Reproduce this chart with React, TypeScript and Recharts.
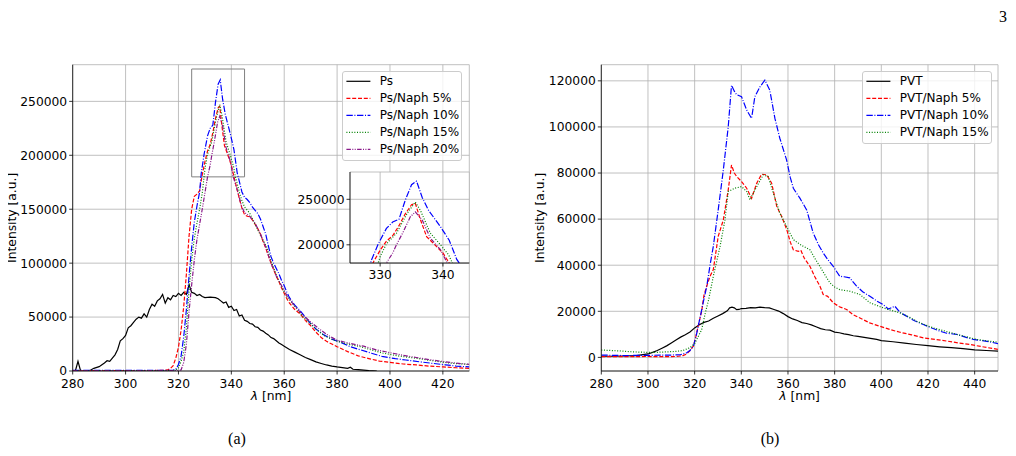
import React from "react";
import { LineChart, Line, XAxis, YAxis, CartesianGrid, ReferenceArea, Legend } from "recharts";

// wavelength [nm], intensity [a.u.]  -- panel (a)
const ps = [
  [280, 0], [281, 0], [282, 9000], [283, 0], [286, 0], [287, 1200], [288, 2500], [290, 4000], [292, 7500],
  [293, 9500], [294, 9000], [295, 12000], [296, 15000], [297, 20000], [298, 28000], [299, 30000], [300, 33000],
  [301, 40000], [302, 42000], [303, 45000], [304, 48000], [305, 50000], [306, 49000], [307, 53000], [308, 50000],
  [309, 57000], [310, 62000], [311, 60000], [312, 65000], [313, 67000], [314, 71000], [315, 63000], [316, 68000],
  [317, 66000], [318, 70000], [319, 69000], [320, 72000], [321, 70000], [322, 73000], [323, 71000], [324, 80000],
  [325, 73000], [326, 72000], [327, 70000], [328, 71000], [329, 69000], [330, 68000], [332, 68500], [334, 68000],
  [335, 67000], [336, 65000], [337, 63000], [338, 64000], [339, 59000], [340, 60000], [341, 56000], [342, 57000],
  [343, 51000], [344, 52000], [345, 47000], [346, 46000], [347, 44000], [348, 43500], [349, 41000], [350, 40500],
  [351, 38000], [352, 37000], [353, 35000], [354, 33500], [355, 31000], [356, 30000], [357, 28000], [358, 26000],
  [359, 24500], [360, 23000], [362, 20000], [364, 17500], [366, 15000], [368, 12500], [370, 10500], [372, 8500],
  [374, 7000], [376, 5600], [378, 4600], [380, 3800], [382, 3200], [384, 2500], [385, 3500], [386, 1600],
  [388, 1200], [390, 800], [392, 400], [395, 0],
];
const psNaph5 = [
  [280, 300], [290, 300], [300, 300], [310, 400], [314, 600], [316, 1000], [317, 2500], [318, 5000], [319, 12000],
  [320, 22000], [321, 38000], [322, 60000], [323, 90000], [324, 125000], [325, 150000], [326, 162000],
  [327, 164000], [328, 167000], [329, 182000], [330, 194000], [331, 204000], [332, 210000], [333, 221000],
  [334, 234000], [335, 244000], [335.6, 245500], [336.4, 228000], [337.4, 209000], [339, 198000], [340, 191000],
  [341, 180000], [342, 170000], [343, 160000], [344, 151000], [345, 145000], [346, 143500], [347, 143000],
  [348, 140000], [349, 136000], [350, 132000], [351, 127000], [352, 120000], [353, 114000], [354, 107000],
  [355, 100000], [356, 94000], [357, 88000], [358, 83000], [359, 77000], [360, 72000], [361, 67000], [362, 63000],
  [364, 57000], [366, 53000], [368, 47000], [370, 42000], [372, 36000], [374, 31000], [376, 27500], [378, 25000],
  [380, 22500], [384, 18000], [388, 14000], [392, 11500], [396, 9200], [400, 8000], [405, 6500], [410, 5600],
  [415, 4500], [420, 3800], [425, 3000], [430, 2500],
];
const psNaph10 = [
  [280, 500], [290, 500], [300, 500], [310, 500], [316, 600], [318, 800], [319, 1500], [320, 6000], [321, 14000],
  [322, 32000], [323, 57000], [324, 88000], [325, 115000], [326, 138000], [327, 153000], [328, 166000],
  [328.6, 183000], [329.7, 201000], [331, 218000], [332, 225000], [333, 228000], [334, 249000], [335, 266000],
  [335.8, 270000], [336.7, 252000], [337.7, 238000], [339.6, 220000], [341, 205000], [342.2, 184000],
  [343, 176000], [344, 166000], [345, 161000], [346, 159000], [347, 156000], [348, 152000], [349, 149000],
  [350, 146000], [351, 141000], [352, 134000], [353, 127000], [354, 116000], [355, 106000], [356, 100000],
  [357, 95000], [358, 90000], [359, 84000], [360, 79000], [361, 73000], [362, 68000], [364, 61000], [366, 56000],
  [368, 50000], [370, 44000], [372, 39000], [375, 33500], [378, 29500], [381, 27000], [385, 22500], [389, 19500],
  [393, 16500], [397, 13500], [402, 11500], [406, 10200], [411, 8600], [416, 7100], [421, 5700], [425, 4600],
  [430, 3800],
];
const psNaph15 = [
  [280, 300], [290, 300], [300, 300], [310, 300], [318, 500], [319, 1000], [320, 3000], [321, 9000], [322, 18000],
  [323, 40000], [324, 75000], [325, 103000], [326, 123000], [327, 137000], [328, 150000], [329, 165000],
  [330, 187000], [331, 201000], [332.6, 212700], [334.3, 234500], [335.6, 247000], [336.4, 238000],
  [338, 212700], [339.6, 200000], [340.9, 189000], [341.5, 180000], [342, 176000], [343, 166000], [344, 158000],
  [345, 152000], [346.4, 148000], [347, 146000], [348, 141000], [350, 131000], [352, 121000], [353.4, 115000],
  [355, 102000], [357.2, 88000], [359, 78000], [361, 69000], [364, 60000], [367, 50500], [370, 44000],
  [372.3, 38000], [375, 33000], [378.6, 28800], [383, 25500], [388.7, 22600], [393, 19500], [397.5, 16500],
  [403, 14000], [410, 11800], [416, 9500], [422.7, 7300], [430, 6000],
];
const psNaph20 = [
  [280, 300], [290, 300], [300, 300], [310, 300], [320, 500], [321, 1000], [322, 8000], [323, 25000],
  [324, 55000], [325, 80000], [326, 103000], [327, 122000], [328, 136000], [329, 150000], [330, 165000],
  [331, 180000], [332, 191000], [332.6, 200000], [333.7, 214500], [334.8, 230700], [335.6, 236200],
  [336.7, 227200], [338, 207300], [339.6, 194600], [340.7, 180000], [342, 170000], [343.9, 152500],
  [345, 147000], [347, 143300], [349, 137000], [351, 127000], [353, 115000], [355, 100000], [357, 88000],
  [359, 79000], [361, 70000], [364, 60000], [367, 52000], [370, 45500], [373, 39500], [376, 34000],
  [380, 28500], [385, 25500], [390, 23000], [395, 19500], [400, 17000], [405, 14500], [410, 12500],
  [415, 10500], [420, 8800], [425, 7300], [430, 6200],
];

// panel (b)
const pvt = [
  [280, 500], [285, 500], [290, 600], [295, 800], [300, 1500], [302, 2200], [304, 3000], [306, 4000], [308, 5000],
  [310, 6300], [312, 7600], [314, 8800], [316, 9800], [318, 11000], [320, 12800], [322, 14200], [324, 15200],
  [326, 15800], [328, 17000], [330, 18000], [332, 19000], [334, 20200], [335, 21500], [336, 21800], [337, 21500],
  [338, 20700], [339, 20800], [340, 21200], [342, 21300], [344, 21600], [346, 21500], [348, 21800], [350, 21600],
  [352, 21500], [354, 20800], [356, 20100], [358, 19000], [360, 17700], [362, 16700], [364, 16000], [366, 15100],
  [368, 14700], [370, 14100], [372, 13300], [374, 12500], [376, 12000], [378, 11800], [380, 11000], [382, 10700],
  [384, 10200], [386, 9900], [388, 9400], [390, 9100], [394, 8500], [398, 7800], [400, 7300], [405, 6800],
  [410, 6200], [415, 5600], [420, 5100], [425, 4600], [430, 4200], [435, 3800], [440, 3300], [445, 3000],
  [450, 2700],
];
const pvtNaph5 = [
  [280, 300], [290, 300], [300, 400], [305, 300], [310, 300], [313, 500], [315, 800], [316.6, 1500], [318, 3000],
  [319.5, 5000], [320.5, 9000], [321.5, 13500], [323, 20000], [324, 27000], [325.2, 31000], [326.6, 35200],
  [328, 38100], [330.1, 52500], [332.3, 59700], [334.4, 72700], [335.8, 83500], [337, 80000], [338, 78500],
  [340.1, 76300], [342.3, 73400], [344.4, 69000], [346.6, 75600], [348.7, 79500], [350.9, 79200], [353, 75600],
  [355.2, 65500], [357.3, 61100], [359.5, 55400], [361, 50000], [362.3, 46700], [364.4, 46000], [365.5, 46500],
  [367, 43000], [369.4, 39500], [371.5, 35000], [373.7, 30900], [375.1, 27300], [377, 26500], [379.4, 23700],
  [382, 22000], [385.1, 20800], [388, 18500], [392.2, 16400], [395, 15000], [399.4, 13500], [404, 12000],
  [408, 10900], [413, 9800], [418, 8500], [423, 7800], [428, 7100], [433, 6300], [438, 5600], [444, 4500],
  [450, 3500],
];
const pvtNaph10 = [
  [280, 1000], [290, 800], [300, 900], [310, 1000], [314, 1200], [316.6, 2000], [318, 3000], [319.5, 4900],
  [320.8, 10000], [322.3, 17200], [323.7, 24000], [325.2, 30900], [326.6, 40000], [328, 48200], [330.1, 64000],
  [332.3, 81400], [334.4, 100100], [335.8, 118100], [337, 115500], [338, 114000], [340.1, 113100],
  [342.3, 107300], [344.4, 103700], [345.8, 113100], [348, 117400], [350.1, 120300], [352.2, 116000],
  [354.4, 103700], [356.5, 95100], [359.4, 85700], [361, 78000], [362.3, 73400], [363.5, 71500], [365.1, 69100],
  [368, 64000], [370.8, 54000], [373, 49000], [375.1, 45300], [377, 42500], [379.4, 39500], [382.2, 35200],
  [384, 35000], [386.5, 34500], [389.4, 30900], [392, 28500], [395.1, 26500], [398, 24500], [400.8, 22900],
  [403, 21000], [405.8, 22200], [408, 19500], [410.8, 17900], [414, 16000], [418, 14300], [421, 13000],
  [425.1, 11400], [428, 10500], [432.3, 10000], [436, 8800], [439.4, 7800], [444, 7200], [450, 6000],
];
const pvtNaph15 = [
  [280, 3200], [284, 3000], [288, 2800], [292, 2500], [296, 2300], [300, 2200], [304, 2200], [308, 2400],
  [312, 2600], [315, 3000], [318, 4200], [320, 6000], [321.5, 9000], [323, 12000], [324.5, 19000], [326, 25000],
  [328, 35200], [330.9, 48200], [333, 59700], [334.4, 72000], [337.2, 73400], [340.1, 74100], [342.3, 72000],
  [343.7, 68400], [346.6, 74100], [349.4, 79200], [351.5, 78500], [353.7, 71300], [356.5, 62600],
  [359.4, 56800], [362.3, 51100], [364.4, 49600], [366, 48500], [369.4, 46700], [371.5, 43000], [373.7, 39500],
  [376, 35500], [378, 32300], [380, 30500], [382.2, 29400], [386.5, 28700], [390.8, 27300], [395.1, 23700],
  [400.8, 21500], [404, 20500], [408, 19300], [412, 17500], [415.2, 15700], [419, 14000], [422.3, 12800],
  [427, 11500], [432.3, 10000], [437, 8800], [440.9, 7800], [445, 7200], [450, 6600],
];

const aXTicks = [280, 300, 320, 340, 360, 380, 400, 420];
const aYTicks = [0, 50000, 100000, 150000, 200000, 250000];
const insetXTicks = [330, 340];
const insetYTicks = [200000, 250000];
const bXTicks = [280, 300, 320, 340, 360, 380, 400, 420, 440];
const bYTicks = [0, 20000, 40000, 60000, 80000, 100000, 120000];

const pts = (a: number[][]) => a.map(([x, y]) => ({ x, y }));

const FONT = "'DejaVu Sans', sans-serif";
const SERIF = "'Liberation Serif', 'DejaVu Serif', serif";
const tickStyle = { fill: "#000", fontSize: 12.3, fontFamily: FONT };
const spine = { stroke: "#000", strokeWidth: 0.8 };

const DASH: Record<string, string | undefined> = {
  solid: undefined,
  dash: "4 1.8",
  dashdot: "6.4 1.6 1 1.6",
  dot: "1 1.65",
  dashdotdot: "4.5 1.4 1 1.4 1 1.4",
};

type Series = { name: string; data: number[][]; color: string; style: string };

const seriesA: Series[] = [
  { name: "Ps", data: ps, color: "#000000", style: "solid" },
  { name: "Ps/Naph 5%", data: psNaph5, color: "#ff0000", style: "dash" },
  { name: "Ps/Naph 10%", data: psNaph10, color: "#0000ff", style: "dashdot" },
  { name: "Ps/Naph 15%", data: psNaph15, color: "#008000", style: "dot" },
  { name: "Ps/Naph 20%", data: psNaph20, color: "#8a1a8a", style: "dashdotdot" },
];
const seriesB: Series[] = [
  { name: "PVT", data: pvt, color: "#000000", style: "solid" },
  { name: "PVT/Naph 5%", data: pvtNaph5, color: "#ff0000", style: "dash" },
  { name: "PVT/Naph 10%", data: pvtNaph10, color: "#0000ff", style: "dashdot" },
  { name: "PVT/Naph 15%", data: pvtNaph15, color: "#008000", style: "dot" },
];

const lines = (series: Series[]) =>
  series.map((s) => (
    <Line
      key={s.name}
      data={pts(s.data)}
      dataKey="y"
      name={s.name}
      type="linear"
      stroke={s.color}
      strokeWidth={1.2}
      strokeDasharray={DASH[s.style]}
      dot={false}
      activeDot={false}
      isAnimationActive={false}
    />
  ));

function LegendBox({ series, width }: { series: Series[]; width: number }) {
  const row = 17;
  const height = series.length * row + 5;
  return (
    <svg width={width} height={height} style={{ display: "block" }}>
      <rect x={0.5} y={0.5} width={width - 1} height={height - 1} rx={2.5} fill="#fff" fillOpacity={0.8} stroke="#cccccc" />
      {series.map((s, i) => {
        const cy = 10.3 + i * row;
        return (
          <g key={s.name}>
            <line x1={4.4} x2={28.4} y1={cy} y2={cy} stroke={s.color} strokeWidth={1.2} strokeDasharray={DASH[s.style]} />
            <text x={37.7} y={cy} dominantBaseline="central" fontSize={12} fontFamily={FONT} fill="#000">
              {s.name}
            </text>
          </g>
        );
      })}
    </svg>
  );
}

const yLabel = (dx: number) => (p: any) => {
  const vb = p.viewBox || {};
  const x = (vb.x || 0) + dx;
  const y = (vb.y || 0) + (vb.height || 0) / 2;
  return (
    <text x={x} y={y} transform={`rotate(-90 ${x} ${y})`} textAnchor="middle" dominantBaseline="central" fontSize={12.3} fontFamily={FONT} fill="#000">
      Intensity [a.u.]
    </text>
  );
};

const xLabel = (p: any) => {
  const vb = p.viewBox || {};
  const x = (vb.x || 0) + (vb.width || 0) / 2;
  const y = (vb.y || 0) + 25;
  return (
    <text x={x} y={y} textAnchor="middle" dominantBaseline="central" fontSize={12.3} fontFamily={FONT} fill="#000">
      <tspan fontStyle="italic">λ</tspan> [nm]
    </text>
  );
};

export default function App() {
  return (
    <div style={{ position: "relative", width: 1000, height: 440, background: "#fff" }}>
      <div style={{ position: "absolute", left: 991, top: 0, fontFamily: SERIF, fontSize: 16 }}>3</div>

      {/* panel (a) */}
      <div style={{ position: "absolute", left: -6, top: 42 }}>
        <LineChart width={476} height={360} margin={{ top: 14.7, right: 8.7, bottom: 14, left: 0 }}>
          <CartesianGrid stroke="#b0b0b0" strokeWidth={0.8} />
          <XAxis
            dataKey="x"
            type="number"
            domain={[280, 430]}
            ticks={aXTicks}
            allowDataOverflow
            height={25}
            tick={tickStyle}
            tickSize={3.5}
            tickMargin={4.5}
            tickLine={spine}
            axisLine={spine}
            label={xLabel}
          />
          <YAxis
            type="number"
            domain={[0, 284000]}
            ticks={aYTicks}
            allowDataOverflow
            width={70.7}
            tick={tickStyle}
            tickSize={3.5}
            tickMargin={2}
            tickLine={spine}
            axisLine={spine}
            label={yLabel(10.3)}
          />
          <XAxis xAxisId="top" orientation="top" type="number" domain={[280, 430]} allowDataOverflow height={0} tick={false} tickLine={false} axisLine={spine} />
          <YAxis yAxisId="right" orientation="right" type="number" domain={[0, 284000]} allowDataOverflow width={0} tick={false} tickLine={false} axisLine={spine} />
          <ReferenceArea x1={325} x2={345} y1={180000} y2={280000} fill="none" fillOpacity={0} stroke="#808080" strokeWidth={1} />
          {lines(seriesA)}
          <Legend
            layout="vertical"
            align="center"
            verticalAlign="middle"
            wrapperStyle={{ left: 340.3, top: 20.7, width: 120 }}
            content={() => <LegendBox series={seriesA} width={120} />}
          />
        </LineChart>
      </div>

      {/* inset of panel (a) */}
      <div style={{ position: "absolute", left: 282, top: 163.3 }}>
        <LineChart width={181} height={112} margin={{ top: 1, right: 1.7, bottom: 0, left: 0 }}>
          <CartesianGrid stroke="#b0b0b0" strokeWidth={0.8} fill="#fff" fillOpacity={1} />
          <XAxis
            dataKey="x"
            type="number"
            domain={[325.2, 344.2]}
            ticks={insetXTicks}
            allowDataOverflow
            height={20}
            tick={tickStyle}
            tickSize={3.5}
            tickMargin={3.5}
            tickLine={spine}
            axisLine={spine}
          />
          <YAxis
            type="number"
            domain={[180000, 280000]}
            ticks={insetYTicks}
            allowDataOverflow
            width={60}
            tick={tickStyle}
            tickSize={3.5}
            tickMargin={2}
            tickLine={spine}
            axisLine={spine}
          />
          <XAxis xAxisId="top" orientation="top" type="number" domain={[325.2, 344.2]} allowDataOverflow height={0} tick={false} tickLine={false} axisLine={spine} />
          <YAxis yAxisId="right" orientation="right" type="number" domain={[180000, 280000]} allowDataOverflow width={0} tick={false} tickLine={false} axisLine={spine} />
          {lines(seriesA.slice(1))}
        </LineChart>
      </div>

      {/* panel (b) */}
      <div style={{ position: "absolute", left: 522, top: 42 }}>
        <LineChart width={476} height={360} margin={{ top: 14.7, right: 8, bottom: 14, left: 0 }}>
          <CartesianGrid stroke="#b0b0b0" strokeWidth={0.8} />
          <XAxis
            dataKey="x"
            type="number"
            domain={[280, 450]}
            ticks={bXTicks}
            allowDataOverflow
            height={25}
            tick={tickStyle}
            tickSize={3.5}
            tickMargin={4.5}
            tickLine={spine}
            axisLine={spine}
            label={xLabel}
          />
          <YAxis
            type="number"
            domain={[-5900, 127000]}
            ticks={bYTicks}
            allowDataOverflow
            width={71.3}
            tick={tickStyle}
            tickSize={3.5}
            tickMargin={2}
            tickLine={spine}
            axisLine={spine}
            label={yLabel(10)}
          />
          <XAxis xAxisId="top" orientation="top" type="number" domain={[280, 450]} allowDataOverflow height={0} tick={false} tickLine={false} axisLine={spine} />
          <YAxis yAxisId="right" orientation="right" type="number" domain={[-5900, 127000]} allowDataOverflow width={0} tick={false} tickLine={false} axisLine={spine} />
          {lines(seriesB)}
          <Legend
            layout="vertical"
            align="center"
            verticalAlign="middle"
            wrapperStyle={{ left: 331.7, top: 20.7, width: 130 }}
            content={() => <LegendBox series={seriesB} width={130} />}
          />
        </LineChart>
      </div>

      <div style={{ position: "absolute", left: 209, top: 422, width: 40, textAlign: "center", fontFamily: SERIF, fontSize: 16 }}>(a)</div>
      <div style={{ position: "absolute", left: 742, top: 422, width: 40, textAlign: "center", fontFamily: SERIF, fontSize: 16 }}>(b)</div>
    </div>
  );
}
